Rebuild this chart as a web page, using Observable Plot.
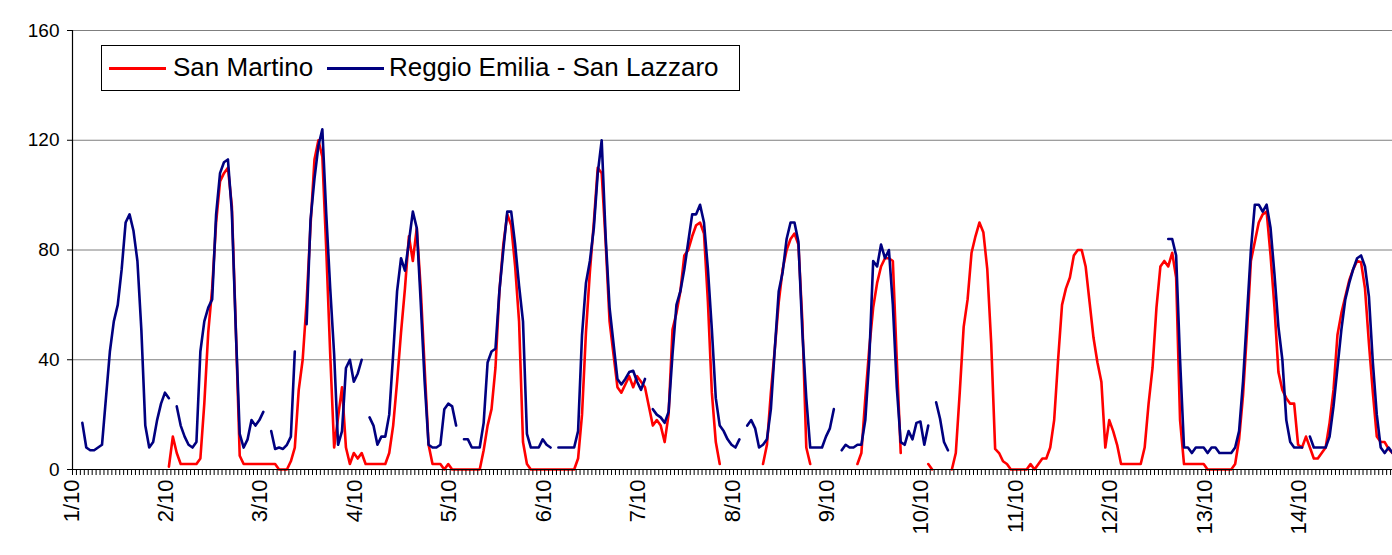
<!DOCTYPE html>
<html>
<head>
<meta charset="utf-8">
<script src="https://cdn.jsdelivr.net/npm/d3@7"></script>
<script src="https://cdn.jsdelivr.net/npm/@observablehq/plot@0.6"></script>
<style>
  body { margin: 0; background: #fff; font-family: "Liberation Sans", Arial, sans-serif; }
  #wrap { position: relative; width: 1392px; height: 555px; overflow: hidden; background: #fff; }
  #legend { position: absolute; left: 101px; top: 45px; width: 639px; height: 46px; border: 1px solid #000;
            background: #fff; box-sizing: border-box; font-size: 26px; color: #000; }
  #legend .sw { position: absolute; top: 21px; height: 3px; width: 57px; }
  #legend .lb { position: absolute; top: 6px; white-space: nowrap; line-height: 30px; }
</style>
</head>
<body>
<div id="wrap"></div>
<script>
// ---- data: hourly values, one row of 24 per day (null = missing) ----
const dayLabels = ["1/10","2/10","3/10","4/10","5/10","6/10","7/10","8/10","9/10","10/10","11/10","12/10","13/10","14/10"];
const seriesNames = ["San Martino", "Reggio Emilia - San Lazzaro"];
const seriesColors = ["#ff0000", "#000080"];

const sanMartino = [
  null,null,null,null,null,null,null,null,null,null,null,null,null,null,null,null,null,null,null,null,null,null,null,null,
  1,12,6,2,2,2,2,2,4,24,50,66,90,105,108,110,96,52,5,2,2,2,2,2,
  2,2,2,2,0,0,0,3,8,29,40,61,89,113,120,114,80,42,8,19,30,8,2,6,
  4,6,2,2,2,2,2,2,6,16,32,50,66,85,76,88,66,37,9,2,2,2,0,2,
  0,0,0,0,0,0,0,0,7,16,22,37,65,82,93,89,74,54,10,2,0,0,0,0,
  0,0,0,0,0,0,0,0,4,20,50,72,90,110,108,83,54,42,30,28,31,34,30,34,
  32,30,23,16,18,16,10,20,51,57,65,78,80,85,89,90,86,61,28,10,2,null,null,null,
  null,null,null,null,null,null,null,2,9,28,44,61,73,80,84,86,82,54,8,2,null,null,null,null,
  null,null,null,null,null,null,null,2,6,26,44,59,68,74,77,77,76,40,6,null,null,null,null,null,
  null,2,0,null,null,null,null,0,6,28,52,62,79,85,90,86.5,73,46,7.5,6,3,2,0,0,
  0,0,0,2,0,2,4,4,8,18,40,60,66,70,78,80,80,74,61,48,39,32,8,18,
  14,9,2,2,2,2,2,2,8,24,37,59,74,76,74,79,70,18,2,2,2,2,2,2,
  0,0,0,0,0,0,0,2,11,27,50,76,83,90,93,94,78,59,35.5,29,26,24,24,9,
  8,12,8,4,4,6,8,17,29,49,57,63,69,73,76,75.5,66,46,28,12,10,10,7.5,6
];

const sanLazzaro = [
  null,null,17,8,7,7,8,9,26,43,54,60,73,90,93,87,76,51,16,8,10,18,24,28,
  26,null,23,16,12,9,8,10,43,54,59,62,93,108,112,113,94,51,13,8,11,18,16,18,
  21,null,14,7.5,8,7.5,9,12,43,null,null,53,91,106,118,124,93,66,42,9,14,37,40,32,
  35,40,null,19,16,9,12,12,20,42,65,77,72.5,83,94,88,61,32,9,8,8,9,22,24,
  23,16,null,11,11,8,8,8,17,39,43,44,65,80,94,94,82,67,54,13,8,8,8,11,
  9,8,null,8,8,8,8,8,14,49,68,76,88,108,120,85,59,46,33,31,33,35.5,36,32,
  29,33,null,22,20,19,17,21,42,60,65,73,83,93,93,96.5,90,73,51,26,16,14,11,9,
  8,11,null,16,18,15,8,9,11,22,44,65,72,84,90,90,83,50,26,8,8,8,8,12,
  15,22,null,7,9,8,8,9,9,18,40,76,74,82,77,80,60,30,10,9,14,11,17,17.5,
  9,16,null,24.5,18.5,10,7,null,null,null,null,null,null,null,null,null,null,null,null,null,null,null,null,null,
  null,null,null,null,null,null,null,null,null,null,null,null,null,null,null,null,null,null,null,null,null,null,null,null,
  null,null,null,null,null,null,null,null,null,null,null,null,null,null,84,84,78,40,8,8,6,8,8,8,
  6,8,8,6,6,6,6,8,14,32,56,80,96.5,96.5,94,96.5,88,71,52,40,18,10,8,8,
  8,null,12,8,8,8,8,12,23,37,51,62,68,73,77,78,74,63,39,20,8,6,8,6
];

const yTicks = [0, 40, 80, 120, 160];
const hoursPerDay = 24;

// ---- build tables ----
const rows = [];
[sanMartino, sanLazzaro].forEach((vals, s) => {
  vals.forEach((v, h) => rows.push({series: seriesNames[s], hour: h, value: v}));
});
const nHours = sanMartino.length;
const dayRows = dayLabels.map((t, k) => ({hour: k * hoursPerDay, label: t}));
const minorTicks = d3.range(nHours + 1).map(h => h - 0.5);

const chart = Plot.plot({
  width: 1392,
  height: 555,
  marginLeft: 72,
  marginRight: 0,
  marginTop: 30,
  marginBottom: 86,
  style: {fontFamily: "'Liberation Sans', Arial, sans-serif", fontSize: "18px", color: "#000", background: "#fff", overflow: "visible"},
  x: {domain: [-0.5, nHours - 0.5], range: [72, 1394], axis: null},
  y: {domain: [0, 160], axis: null},
  color: {domain: seriesNames, range: seriesColors},
  marks: [
    Plot.ruleY(yTicks.slice(1), {stroke: "#7f7f7f", strokeWidth: 1}),
    Plot.line(rows, {x: "hour", y: "value", z: "series", stroke: "series", strokeWidth: 2.6, strokeLinejoin: "round", curve: "linear"}),
    Plot.ruleX([-0.5], {y1: 0, y2: 160, stroke: "#000", strokeWidth: 1.2}),
    Plot.ruleY([0], {stroke: "#000", strokeWidth: 1.2}),
    Plot.axisX(minorTicks, {tickSize: 6, tickFormat: () => "", stroke: "#000", label: null}),
    Plot.axisY(yTicks, {tickSize: 5, tickPadding: 8, fontSize: 19, stroke: "#000", label: null}),
    Plot.text(dayRows, {x: "hour", y: 0, text: "label", rotate: -90, textAnchor: "end", lineAnchor: "middle", dx: -3, dy: 10, fontSize: 22, fill: "#000"})
  ]
});

const wrap = document.getElementById("wrap");
wrap.appendChild(chart);

// legend (inside plot area, drawn as HTML over the SVG)
const legend = document.createElement("div");
legend.id = "legend";
const swLeft = [7, 225], lbLeft = [71, 287];
seriesNames.forEach((name, i) => {
  const sw = document.createElement("div");
  sw.className = "sw"; sw.style.left = swLeft[i] + "px"; sw.style.background = seriesColors[i];
  const lb = document.createElement("div");
  lb.className = "lb"; lb.style.left = lbLeft[i] + "px"; lb.textContent = name;
  legend.appendChild(sw); legend.appendChild(lb);
});
wrap.appendChild(legend);
</script>
</body>
</html>
